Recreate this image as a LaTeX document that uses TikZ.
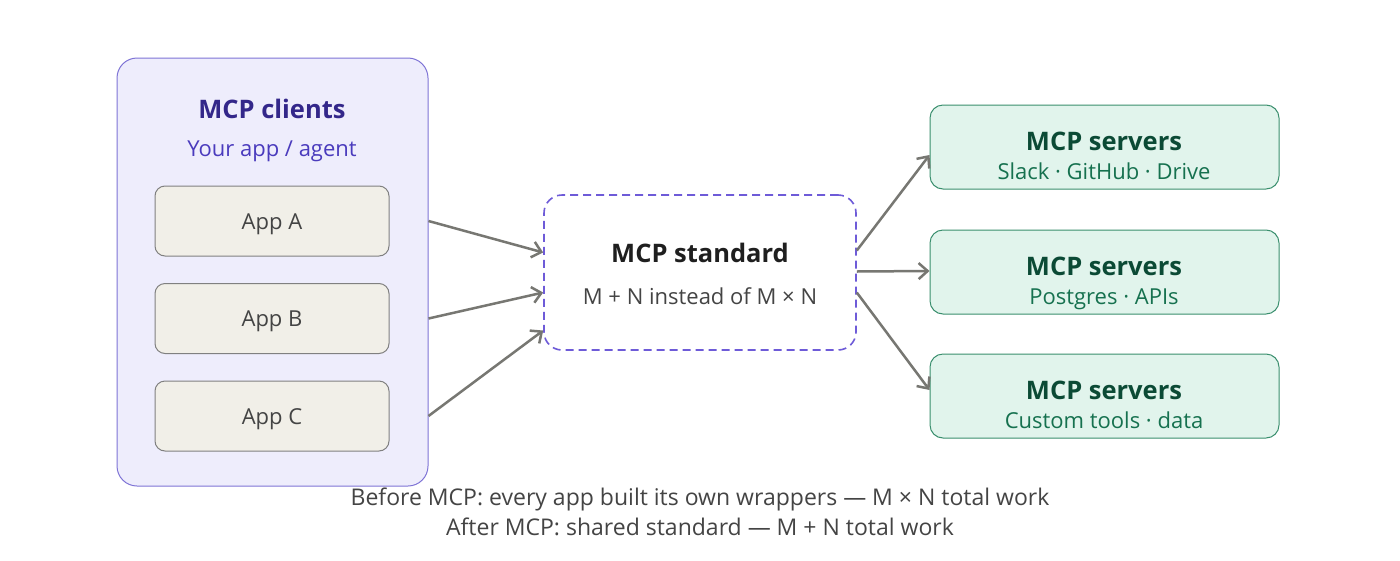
\documentclass[tikz,border=0pt]{standalone}
\usepackage{fontspec}
\setmainfont{Open Sans}
\usetikzlibrary{arrows.meta}
\definecolor{clientfill}{HTML}{EEEDFC}
\definecolor{clientdraw}{HTML}{7F74D6}
\definecolor{clienttitle}{HTML}{33278A}
\definecolor{clientsub}{HTML}{4A3BBD}
\definecolor{appfill}{HTML}{F1EFE8}
\definecolor{appdraw}{HTML}{808080}
\definecolor{apptext}{HTML}{444444}
\definecolor{stddraw}{HTML}{6E5BD8}
\definecolor{srvfill}{HTML}{E1F4EC}
\definecolor{srvdraw}{HTML}{3A8F6E}
\definecolor{srvtitle}{HTML}{0B4A35}
\definecolor{srvsub}{HTML}{16714F}
\definecolor{arrowgray}{HTML}{777772}
\tikzset{
  clientbox/.style={draw=clientdraw, fill=clientfill, line width=1pt, rounded corners=20pt, minimum width=311pt, minimum height=428pt, inner sep=0pt},
  appbox/.style={draw=appdraw, fill=appfill, line width=1pt, rounded corners=10pt, minimum width=234pt, minimum height=70pt, inner sep=0pt},
  stdbox/.style={draw=stddraw, fill=white, line width=1.6pt, dash pattern=on 8pt off 5pt, rounded corners=18pt, minimum width=312pt, minimum height=155pt, inner sep=0pt},
  srvbox/.style={draw=srvdraw, fill=srvfill, line width=1pt, rounded corners=13pt, minimum width=349pt, minimum height=84pt, inner sep=0pt},
  conn/.style={draw=arrowgray, line width=2.5pt, -{Straight Barb[length=9pt,width=16pt,line width=2.5pt]}},
  lbl/.style={inner sep=0pt, anchor=base},
  titlefont/.style={font=\fontsize{25.5}{30}\selectfont\bfseries},
  subfont/.style={font=\fontsize{22}{26}\selectfont},
  capfont/.style={font=\fontsize{23}{27}\selectfont},
}
\begin{document}
\begin{tikzpicture}[x=1pt,y=-1pt]
\useasboundingbox[fill=white] (0,0) rectangle (1400,560);
% clients
\node[clientbox] (clients) at (272.5,272) {};
\node[lbl, text=clienttitle, titlefont] (ctitle) at (272,118) {MCP clients};
\node[lbl, text=clientsub, subfont] (csub) at (272,156) {Your app / agent};
\node[appbox] (appA) at (272,221) {};
\node[appbox] (appB) at (272,318.5) {};
\node[appbox] (appC) at (272,416) {};
\node[lbl, text=apptext, subfont] (appAt) at (272,229) {App A};
\node[lbl, text=apptext, subfont] (appBt) at (272,326.5) {App B};
\node[lbl, text=apptext, subfont] (appCt) at (272,424) {App C};
% standard
\node[stdbox] (std) at (700,272.5) {};
\node[lbl, text=black!88, titlefont] (stitle) at (700,262) {MCP standard};
\node[lbl, text=apptext, subfont] (ssub) at (700,304) {M + N instead of M × N};
% servers
\node[srvbox] (s1) at (1104.5,147) {};
\node[srvbox] (s2) at (1104.5,272) {};
\node[srvbox] (s3) at (1104.5,396) {};
\node[lbl, text=srvtitle, titlefont] (s1t) at (1104,150) {MCP servers};
\node[lbl, text=srvsub, subfont] (s1s) at (1104,179) {Slack · GitHub · Drive};
\node[lbl, text=srvtitle, titlefont] (s2t) at (1104,275) {MCP servers};
\node[lbl, text=srvsub, subfont] (s2s) at (1104,304) {Postgres · APIs};
\node[lbl, text=srvtitle, titlefont] (s3t) at (1104,399) {MCP servers};
\node[lbl, text=srvsub, subfont] (s3s) at (1104,428) {Custom tools · data};
% connector endpoints (yshift is in canvas direction: positive = up)
\coordinate (a1) at (clients.east |- appA);
\coordinate (a2) at (clients.east |- appB);
\coordinate (a3) at (clients.east |- appC);
\coordinate (e1) at ([yshift=20pt]std.west);
\coordinate (e2) at ([yshift=-20pt]std.west);
\coordinate (e3) at ([yshift=-58pt]std.west);
\coordinate (o1) at ([yshift=22pt]std.east);
\coordinate (o2) at ([yshift=1pt]std.east);
\coordinate (o3) at ([yshift=-20pt]std.east);
\coordinate (t1) at ([yshift=-8pt]s1.west);
\coordinate (t2) at ([yshift=1pt]s2.west);
\coordinate (t3) at ([yshift=6pt]s3.west);
\draw[conn] (a1) -- (e1);
\draw[conn] (a2) -- (e2);
\draw[conn] (a3) -- (e3);
\draw[conn] (o1) -- (t1);
\draw[conn] (o2) -- (t2);
\draw[conn] (o3) -- (t3);
% caption
\node[lbl, text=apptext, capfont] (cap1) at (700,505) {Before MCP: every app built its own wrappers — M × N total work};
\node[lbl, text=apptext, capfont] (cap2) at (700,535) {After MCP: shared standard — M + N total work};
\end{tikzpicture}
\end{document}
